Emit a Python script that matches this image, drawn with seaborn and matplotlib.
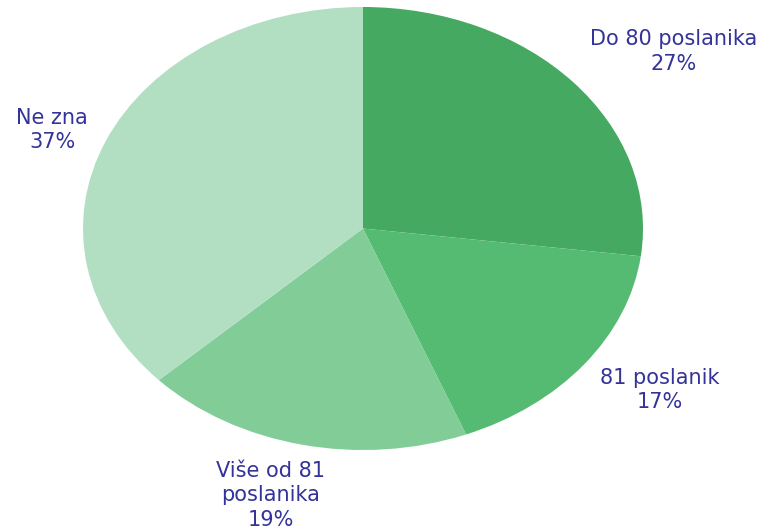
import matplotlib
matplotlib.use('Agg')
import matplotlib.pyplot as plt
import seaborn as sns

sns.set_theme(style='white')
plt.rcParams['font.family'] = ['DejaVu Sans']

# Podaci
categories = ['Do 80 poslanika', '81 poslanik', 'Više od 81\nposlanika', 'Ne zna']
shares = [27, 17, 19, 37]
colors = ['#45A961', '#55BA72', '#81CC97', '#B2DFC1']

# pozicije natpisa (u koordinatama elipse, radijus = 1)
label_x = [1.11, 1.06, -0.33, -1.11]
label_y = [0.80, -0.73, -1.205, 0.445]

fig = plt.figure(figsize=(7.68, 5.32), dpi=100)
ax = fig.add_axes([83 / 768, 82 / 532, 560 / 768, 443 / 532])

wedges, _ = ax.pie(shares, colors=colors, startangle=90, counterclock=False,
                   wedgeprops={'linewidth': 0})
ax.set_aspect('auto')
ax.set_xlim(-1, 1)
ax.set_ylim(-1, 1)
ax.axis('off')

for cat, val, lx, ly in zip(categories, shares, label_x, label_y):
    ax.text(lx, ly, f'{cat}\n{val}%', ha='center', va='center',
            fontsize=15, color='#333399', linespacing=1.28, clip_on=False)

fig.savefig('out.png', dpi=100)
